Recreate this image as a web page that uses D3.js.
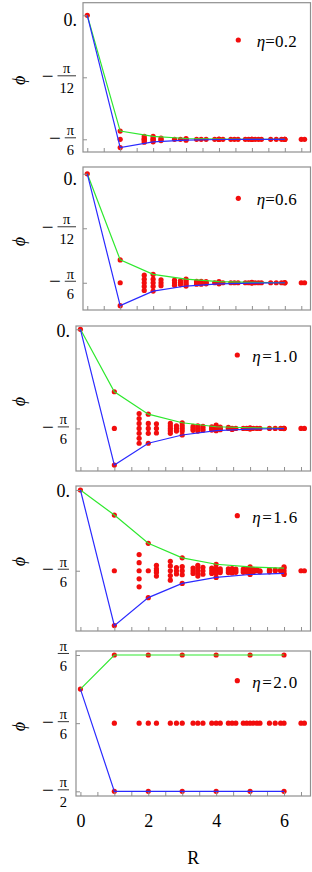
<!DOCTYPE html>
<html>
<head>
<meta charset="utf-8">
<script src="https://cdn.jsdelivr.net/npm/d3@7"></script>
<style>
  body { margin: 0; background: #fff; }
  svg { display: block; font-family: "Liberation Serif", "DejaVu Serif", serif; }
</style>
</head>
<body>
<div id="chart"></div>
<script>
// phases in degrees (-30 = -pi/6), R in lattice units
const etaLabels = ['0.2', '0.6', '1.0', '1.6', '2.0'];
const R_INT = [0, 1, 2, 3, 4, 5, 6];
const shellR = [1, 1.73, 2, 2.24, 2.65, 2.83, 3, 3.32, 3.46, 3.61, 3.87, 4, 4.12, 4.36, 4.47, 4.58,
  4.8, 4.9, 5, 5.1, 5.2, 5.29, 5.57, 5.74, 5.9, 6, 6.5, 6.6];
const centerPhi = [-30, -30, -30, -30, -30];

const upper02 = [0, -28.0, -29.3, -29.8, -29.95, -30, -30];
const lower02 = [0, -32.0, -30.6, -30.2, -30.05, -30, -30];
const extra02 = [[1.73, -29.3], [1.73, -29.8], [1.73, -30.3], [1.73, -30.7], [2, -29.8], [2, -30.3],
  [2.24, -29.7], [2.24, -30.3]];

const upper06 = [0, -23.7, -27.7, -29.0, -29.7, -29.9, -30];
const lower06 = [0, -36.3, -32.3, -30.9, -30.3, -30.1, -30];
const extra06 = [[1.73, -27.9], [1.73, -29.0], [1.73, -31.0], [1.73, -32.1], [2, -29.0], [2, -31.0],
  [2.24, -29.2], [2.24, -30.8], [2.65, -29.3], [2.65, -30.7], [2.83, -29.5], [2.83, -30.5],
  [3, -29.5], [3, -30.5], [3.32, -29.6], [3.32, -30.4], [3.46, -29.6], [3.46, -30.4],
  [3.61, -29.7], [3.61, -30.3]];

const upper10 = [0, -18.9, -25.7, -28.3, -29.5, -29.8, -29.95];
const lower10 = [0, -41.1, -34.5, -32.0, -30.7, -30.2, -30.05];
const extra10 = [[1.73, -25.5], [1.73, -27.0], [1.73, -28.5], [1.73, -31.5], [1.73, -33.0], [1.73, -34.5],
  [2, -28.5], [2, -31.5], [2.24, -28.6], [2.24, -31.4], [2.65, -28.5], [2.65, -29.3], [2.65, -30.7],
  [2.65, -31.5], [2.83, -29.2], [2.83, -30.8], [3, -29.2], [3, -30.8], [3.32, -29.4], [3.32, -30.6],
  [3.46, -29.2], [3.46, -30.8], [3.61, -29.4], [3.61, -30.6], [3.87, -29.5], [3.87, -30.5],
  [4, -29.0], [4.12, -29.6], [4.12, -30.4], [4.36, -29.7], [4.47, -30.3]];

const upper16 = [0, -9.3, -19.8, -25.2, -27.6, -28.6, -29.0];
const lower16 = [0, -50.4, -40.0, -34.7, -32.5, -31.4, -31.0];
const extra16 = [[1.73, -24], [1.73, -27], [1.73, -33], [1.73, -36], [2.24, -28], [2.24, -29.3],
  [2.24, -30.7], [2.24, -32], [2.65, -26.5], [2.65, -28.2], [2.65, -31.8], [2.65, -33.5],
  [2.83, -28.8], [2.83, -31.2], [3, -28.5], [3, -31.5], [3.32, -29], [3.32, -31], [3.46, -28],
  [3.46, -29], [3.46, -31], [3.46, -32], [3.61, -28.7], [3.61, -31.3], [3.87, -29], [3.87, -31],
  [4, -29], [4, -31], [4.12, -29.3], [4.12, -30.7], [4.36, -29.3], [4.36, -30.7], [4.47, -29.2],
  [4.47, -30.8], [4.58, -29.4], [4.58, -30.6], [4.8, -29.4], [4.8, -30.6], [4.9, -29.5], [4.9, -30.5],
  [5.1, -29.5], [5.1, -30.5], [5.2, -29.6], [5.29, -30.4], [5.57, -29.6], [5.57, -30.4],
  [5.74, -29.7], [5.9, -29.7], [6, -28.6], [6, -31.4]];

const upper20 = [0, 30, 30, 30, 30, 30, 30];
const lower20 = [0, -90, -90, -90, -90, -90, -90];
const extra20 = [];

const upperSets = [upper02, upper06, upper10, upper16, upper20];
const lowerSets = [lower02, lower06, lower10, lower16, lower20];
const extraSets = [extra02, extra06, extra10, extra16, extra20];

const tickSets = [[0, -15, -30], [0, -15, -30], [0, -30], [0, -30], [30, -30, -90]];
const tickLabelSets = [
  ['0.', '−π/12', '−π/6'],
  ['0.', '−π/12', '−π/6'],
  ['0.', '−π/6'],
  ['0.', '−π/6'],
  ['π/6', '−π/6', '−π/2']
];
const xTicks = d3.range(0, 6.51, 0.5);
const xLabels = [0, 2, 4, 6];

// layout
const width = 312, height = 872;
const right = 310.5;
const frames = [
  { left: 83, top: 2.7, bottom: 152, yDom: [-33.07, 3.05], zeroDy: 10.7, legY: 40, legX: 238.3, textX: 256.7, textW: 40 },
  { left: 83, top: 167, bottom: 310, yDom: [-37.5, 1.87], zeroDy: 11, legY: 198.3, legX: 238.3, textX: 256.7, textW: 40 },
  { left: 76, top: 326, bottom: 471, yDom: [-42.9, 1.0], zeroDy: 7.4, legY: 355, legX: 237.3, textX: 252.3, textW: 45 },
  { left: 76, top: 486, bottom: 631, yDom: [-52.4, 1.49], zeroDy: 6.7, legY: 515.7, legX: 237.3, textX: 252.3, textW: 45 },
  { left: 76, top: 651, bottom: 796, yDom: [-94.1, 33.5], zeroDy: 7, legY: 680.7, legX: 237.3, textX: 252.3, textW: 45 }
];
const frameColor = '#8f8f8f';

const svg = d3.select('#chart').append('svg')
  .attr('width', width)
  .attr('height', height);

const drawTickLabel = (g, ty, label, rx, zeroDy) => {
  if (label === '0.') {
    g.append('text').text(label)
      .attr('x', rx + 1).attr('y', ty + zeroDy)
      .attr('text-anchor', 'end')
      .style('font-size', '18px');
    return;
  }
  const neg = label.startsWith('−');
  const [num, den] = label.replace('−', '').split('/');
  const denText = g.append('text').text(den)
    .attr('y', ty + 16).attr('text-anchor', 'middle')
    .style('font-size', '14.5px');
  const barW = denText.node().getComputedTextLength() + 4;
  const cx = rx - barW / 2;
  denText.attr('x', cx);
  g.append('text').text(num)
    .attr('x', cx).attr('y', ty - 4)
    .attr('text-anchor', 'middle')
    .style('font-size', '14.5px');
  g.append('line')
    .attr('x1', cx - barW / 2).attr('x2', cx + barW / 2)
    .attr('y1', ty - 1.5).attr('y2', ty - 1.5)
    .attr('stroke', '#000').attr('stroke-width', 0.8);
  if (neg) {
    g.append('text').text('−')
      .attr('x', cx - barW / 2 - 4).attr('y', ty + 5.5)
      .attr('text-anchor', 'end')
      .style('font-size', '21px');
  }
};

frames.forEach((f, i) => {
  const x = d3.scaleLinear().domain([-0.13, 6.78]).range([f.left, right]);
  const y = d3.scaleLinear().domain(f.yDom).range([f.bottom, f.top]);
  const g = svg.append('g').attr('class', 'panel');

  // points
  const pts = [[0, 0]];
  shellR.forEach((r) => pts.push([r, centerPhi[i]]));
  R_INT.forEach((r, j) => {
    if (r === 0) return;
    pts.push([r, upperSets[i][j]]);
    pts.push([r, lowerSets[i][j]]);
  });
  extraSets[i].forEach((p) => pts.push(p));

  g.append('g').selectAll('circle')
    .data(pts)
    .enter()
    .append('circle')
    .attr('cx', (d) => x(d[0]))
    .attr('cy', (d) => y(d[1]))
    .attr('r', 2.6)
    .attr('fill', '#f20d0d');

  // envelope lines
  const line = d3.line().x((d) => x(d[0])).y((d) => y(d[1]));
  g.append('path')
    .attr('d', line(R_INT.map((r, j) => [r, upperSets[i][j]])))
    .attr('fill', 'none').attr('stroke', '#2ee82e').attr('stroke-width', 1.2);
  g.append('path')
    .attr('d', line(R_INT.map((r, j) => [r, lowerSets[i][j]])))
    .attr('fill', 'none').attr('stroke', '#2a2aff').attr('stroke-width', 1.2);

  // frame
  g.append('rect')
    .attr('x', f.left).attr('y', f.top)
    .attr('width', right - f.left).attr('height', f.bottom - f.top)
    .attr('fill', 'none').attr('stroke', frameColor).attr('stroke-width', 1.2);

  // bottom ticks
  const xAxis = g.append('g')
    .attr('transform', `translate(0, ${f.bottom})`)
    .call(d3.axisBottom(x).tickValues(xTicks).tickSize(-4)
      .tickFormat((d) => (i === frames.length - 1 && xLabels.includes(d) ? d : '')));
  xAxis.select('.domain').remove();
  xAxis.selectAll('line').attr('stroke', frameColor);
  xAxis.selectAll('text')
    .attr('y', 31).attr('dy', 0)
    .style('font-family', '"Liberation Serif", serif')
    .style('font-size', '18px')
    .attr('fill', '#000');

  // left ticks
  const yAxis = g.append('g')
    .attr('transform', `translate(${f.left}, 0)`)
    .call(d3.axisLeft(y).tickValues(tickSets[i]).tickSize(-4).tickFormat(''));
  yAxis.select('.domain').remove();
  yAxis.selectAll('line').attr('stroke', frameColor);

  tickSets[i].forEach((t, k) => {
    drawTickLabel(g, y(t), tickLabelSets[i][k], f.left - 7, f.zeroDy);
  });

  // axis label
  const cy = (f.top + f.bottom) / 2 + 3;
  g.append('text').text('ϕ')
    .attr('transform', `translate(25, ${cy}) rotate(-90)`)
    .attr('text-anchor', 'middle')
    .style('font-size', '18px')
    .style('font-style', 'italic');

  // legend
  g.append('circle')
    .attr('cx', f.legX).attr('cy', f.legY).attr('r', 2.6)
    .attr('fill', '#f20d0d');
  const lt = g.append('text')
    .attr('x', f.textX).attr('y', f.legY + 7)
    .attr('textLength', f.textW).attr('lengthAdjust', 'spacing')
    .style('font-size', '17px');
  lt.append('tspan').text('η').style('font-style', 'italic');
  lt.append('tspan').text('=' + etaLabels[i]);
});

svg.append('text').text('R')
  .attr('x', (76 + right) / 2).attr('y', 863.5)
  .attr('text-anchor', 'middle')
  .style('font-size', '18px');
</script>
</body>
</html>
